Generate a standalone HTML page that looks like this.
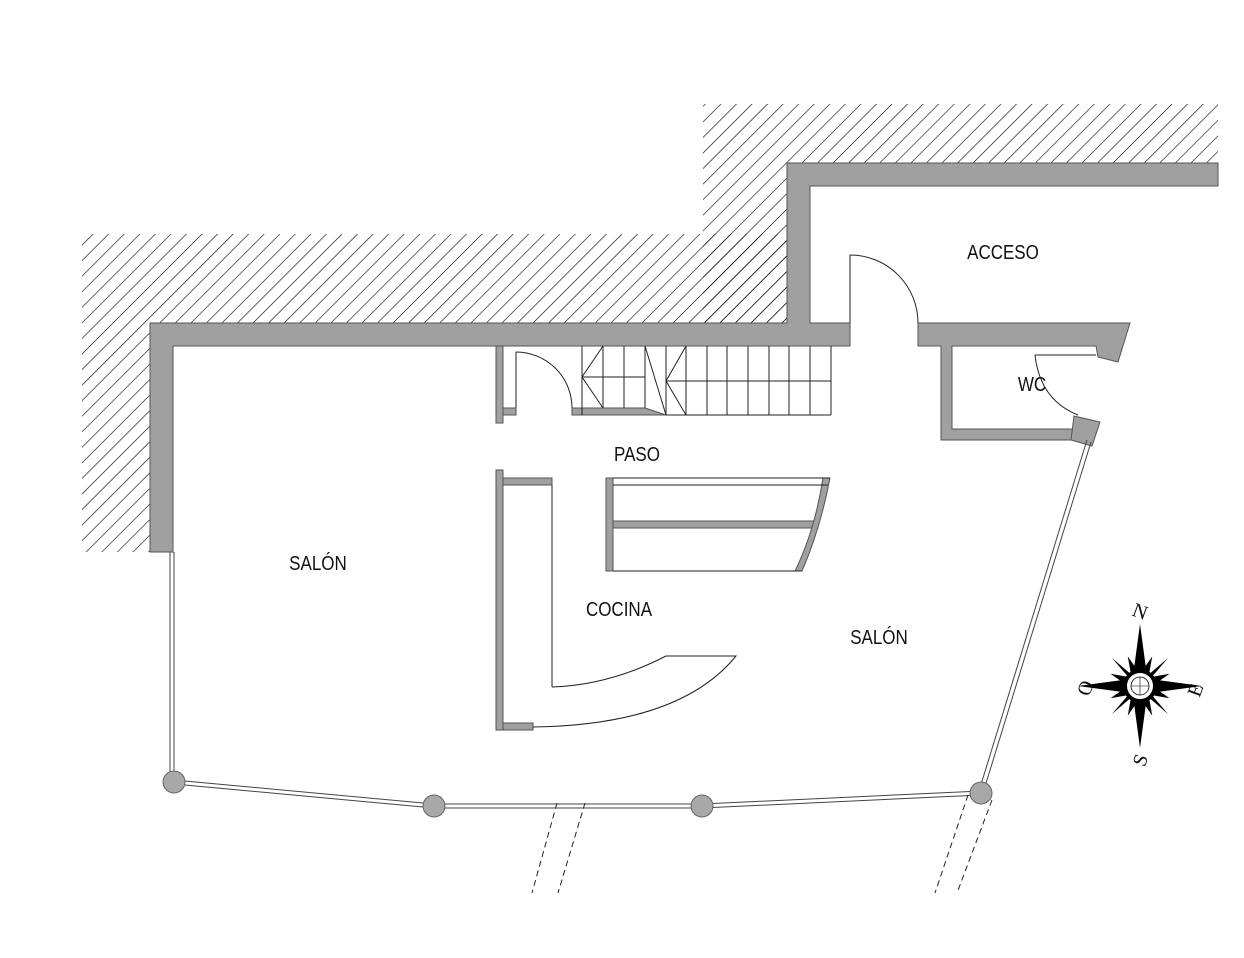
<!DOCTYPE html>
<html><head><meta charset="utf-8"><style>
html,body{margin:0;padding:0;background:#fff;}
svg{display:block}
text{font-family:"Liberation Sans",sans-serif;font-size:20px;fill:#111;}
</style></head><body>
<svg width="1244" height="958" viewBox="0 0 1244 958" xmlns="http://www.w3.org/2000/svg">
<defs>
<pattern id="h" patternUnits="userSpaceOnUse" width="11" height="11" patternTransform="rotate(45)">
<line x1="0" y1="0" x2="0" y2="11" stroke="#000" stroke-width="1.2"/>
</pattern>
</defs>
<path d="M82 234 H787 V323 H150 V552 H82 Z" fill="url(#h)"/>
<path d="M703 104 H1218 V163 H787 V323 H703 Z" fill="url(#h)"/>
<g fill="#a0a0a0" stroke="#555" stroke-width="1">
<path d="M787 163 H1218 V186 H810 V323 H850 V346 H173 V552 H150 V323 H787 Z"/>
<path d="M918 323 H1130 L1118 362 L1098 357 L1096 346 H952 V429 H1075 V440 H941 V346 H918 Z"/>
<path d="M1074 416 L1100 422 L1092 446 L1071 440 Z"/>
<rect x="496" y="346" width="7" height="77"/>
<rect x="503" y="408" width="13" height="7"/>
<path d="M572 408 H645 L666 415 H572 Z"/>
<rect x="496" y="470" width="7" height="260"/>
<rect x="503" y="478" width="49" height="7"/>
<rect x="503" y="723" width="30" height="7"/>
<rect x="606" y="478" width="7" height="93"/>
<rect x="613" y="521" width="205" height="7"/>
<path d="M823 478 H830 Q820 530 802 571 H795 Q815 530 823 478 Z"/>
</g>
<g fill="none" stroke="#222" stroke-width="1">
<line x1="850" y1="255" x2="850" y2="323"/>
<path d="M850 255 A68 68 0 0 1 918 323"/>
<line x1="516" y1="352" x2="516" y2="408"/>
<path d="M516 352 A56 56 0 0 1 572 408"/>
<line x1="1035" y1="355" x2="1096" y2="355"/>
<path d="M1035 355 Q1040 400 1078 415"/>
<path d="M582 346 V415 M603 346 V408 M624 346 V408 M645 346 V408 M666 346 V415 M686 346 V415 M707 346 V415 M727 346 V415 M748 346 V415 M769 346 V415 M789 346 V415 M810 346 V415 M831 346 V415 M666 415 H831"/>
<path d="M582 377 H645 M603 346 L582 377 L603 408 M645 346 L666 415 M686 346 L666 381 L686 415 M666 381 H831"/>
<line x1="552" y1="485" x2="552" y2="687"/>
<path d="M552 687 Q610 685 666 656 H736 Q680 725 533 727"/>
<path d="M613 478 H830 M613 485 H828 M613 571 H802"/>
<path d="M170 552 V780 M174 552 V780" stroke="#444"/>
<path d="M174 780 L434 804 M174 784 L434 808 M434 804 L702 804 M434 808 L702 808 M702 804 L981 791 M702 808 L981 795 M979 791 L1087 440 M983 793 L1091 442" stroke="#444"/>
<path d="M557 803 L532 893 M585 803 L558 893 M968 795 L935 893 M992 800 L957 893" stroke-dasharray="6 4"/>
</g>
<g fill="#a8a8a8" stroke="#666" stroke-width="1">
<circle cx="174" cy="782" r="11"/><circle cx="434" cy="806" r="11"/>
<circle cx="702" cy="806" r="11"/><circle cx="981" cy="793" r="11"/>
</g>
<text x="1003" y="259" text-anchor="middle" transform="translate(1003 0) scale(0.85 1) translate(-1003 0)">ACCESO</text>
<text x="637" y="461" text-anchor="middle" transform="translate(637 0) scale(0.85 1) translate(-637 0)">PASO</text>
<text x="318" y="570" text-anchor="middle" transform="translate(318 0) scale(0.85 1) translate(-318 0)">SALÓN</text>
<text x="619" y="616" text-anchor="middle" transform="translate(619 0) scale(0.85 1) translate(-619 0)">COCINA</text>
<text x="879" y="644" text-anchor="middle" transform="translate(879 0) scale(0.85 1) translate(-879 0)">SALÓN</text>
<text x="1032" y="391" text-anchor="middle" transform="translate(1032 0) scale(0.85 1) translate(-1032 0)">WC</text>
<g transform="translate(1140 686)">
<g fill="#000">
<path d="M0 -62 L7 -10 L0 0 L-7 -10 Z"/><path d="M0 62 L7 10 L0 0 L-7 10 Z"/>
<path d="M-62 0 L-10 7 L0 0 L-10 -7 Z"/><path d="M62 0 L10 7 L0 0 L10 -7 Z"/>
<g transform="rotate(22.5)"><path d="M0 -32 L7 0 L-7 0 Z"/><path d="M0 32 L7 0 L-7 0 Z"/><path d="M-32 0 L0 7 L0 -7 Z"/><path d="M32 0 L0 7 L0 -7 Z"/></g>
<g transform="rotate(-22.5)"><path d="M0 -32 L7 0 L-7 0 Z"/><path d="M0 32 L7 0 L-7 0 Z"/><path d="M-32 0 L0 7 L0 -7 Z"/><path d="M32 0 L0 7 L0 -7 Z"/></g>
<g transform="rotate(45)"><path d="M0 -40 L3 0 L-3 0 Z"/><path d="M0 40 L3 0 L-3 0 Z"/><path d="M-40 0 L0 3 L0 -3 Z"/><path d="M40 0 L0 3 L0 -3 Z"/></g>
</g>
<circle r="15" fill="#fff" stroke="#000" stroke-width="4"/>
<circle r="9" fill="#fff" stroke="#000" stroke-width="0.8"/>
<path d="M-9 0 H9 M0 -9 V9" stroke="#000" stroke-width="0.6"/>
<text x="0" y="-68" text-anchor="middle" style="font-family:'Liberation Serif',serif;font-size:20px" transform="rotate(20 0 -74)">N</text>
<text x="0" y="81" text-anchor="middle" style="font-family:'Liberation Serif',serif;font-size:20px" transform="rotate(-70 0 74)">S</text>
<text x="-55" y="9" text-anchor="middle" style="font-family:'Liberation Serif',serif;font-size:20px" transform="rotate(-70 -55 2)">O</text>
<text x="55" y="11" text-anchor="middle" style="font-family:'Liberation Serif',serif;font-size:20px" transform="rotate(-70 55 4)">E</text>
</g>
</svg>
</body></html>
